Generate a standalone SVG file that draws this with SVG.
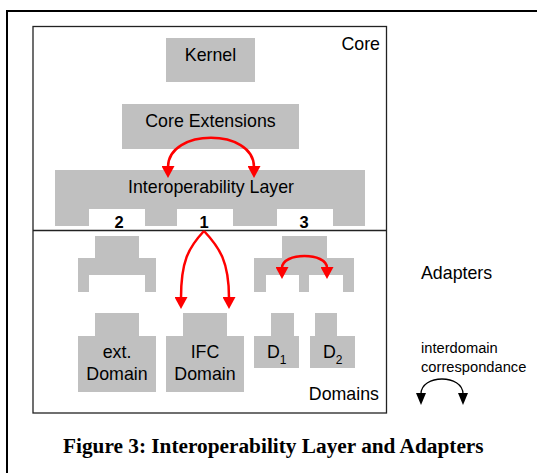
<svg xmlns="http://www.w3.org/2000/svg" width="537" height="473" viewBox="0 0 537 473">
<style>
.blk{fill:#c0c0c0;stroke:none}
.t{font-family:"Liberation Sans",Arial,sans-serif;font-size:17.8px;fill:#000}
.c{text-anchor:middle}
.num{font-family:"Liberation Sans",Arial,sans-serif;font-size:16.5px;font-weight:bold;text-anchor:middle;fill:#000}
.leg{font-family:"Liberation Sans",Arial,sans-serif;font-size:14.7px;fill:#000}
.red{fill:none;stroke:#ff0000;stroke-width:2.5}
.cap{font-family:"Liberation Serif","Times New Roman",serif;font-size:21.3px;font-weight:bold;fill:#000}
</style>
<defs>
<marker id="ra" markerUnits="userSpaceOnUse" markerWidth="12" markerHeight="13" viewBox="0 0 12 13" refX="1" refY="6.5" orient="auto-start-reverse"><path d="M0 0 L12 6.5 L0 13 Z" fill="#ff0000"/></marker>
<marker id="ba" markerUnits="userSpaceOnUse" markerWidth="12" markerHeight="10" viewBox="0 0 12 10" refX="1" refY="5" orient="auto-start-reverse"><path d="M0 0 L12 5 L0 10 Z" fill="#000"/></marker>
</defs>
<rect width="537" height="473" fill="#fff"/>
<g id="page-frame" fill="none" stroke="#000" stroke-width="2">
<path d="M7 473 V11 H537"/>
</g>
<g id="core-domains-box" fill="none" stroke="#222" stroke-width="1.3">
<rect x="33" y="26.5" width="353.5" height="386.5"/>
<line x1="33" y1="230.5" x2="386.5" y2="230.5"/>
</g>
<text class="t" x="380" y="50" text-anchor="end">Core</text>
<text class="t" x="379" y="400" text-anchor="end">Domains</text>
<text class="t" x="421" y="279">Adapters</text>
<g id="kernel">
<rect class="blk" x="166" y="38" width="89" height="44"/>
<text class="t c" x="210.5" y="61">Kernel</text>
</g>
<g id="core-extensions">
<rect class="blk" x="122" y="104" width="177" height="45"/>
<text class="t c" x="210.5" y="127">Core Extensions</text>
</g>
<g id="interoperability-layer">
<path class="blk" d="M55 170 H365 V226 H333 V209 H277 V226 H233 V209 H177 V226 H145 V209 H89 V226 H55 Z"/>
<text class="t c" x="211" y="193">Interoperability Layer</text>
<text class="num" x="119" y="228">2</text>
<text class="num" x="204" y="228">1</text>
<text class="num" x="304" y="228">3</text>
</g>
<g id="adapter-2">
<path class="blk" d="M95 236 H139 V258 H156 V292 H145 V275 H89 V292 H78 V258 H95 Z"/>
</g>
<g id="adapter-3">
<path class="blk" d="M282 236 H327 V258 H354 V292 H343 V275 H309 V292 H299 V275 H266 V292 H254 V258 H282 Z"/>
</g>
<g id="ext-domain">
<path class="blk" d="M95 313 H139 V336 H156 V392 H78 V336 H95 Z"/>
<text class="t c" x="117" y="358">ext.</text>
<text class="t c" x="117" y="380">Domain</text>
</g>
<g id="ifc-domain">
<path class="blk" d="M183 313 H227 V336 H244 V392 H166 V336 H183 Z"/>
<text class="t c" x="205" y="358">IFC</text>
<text class="t c" x="205" y="380">Domain</text>
</g>
<g id="d1">
<path class="blk" d="M271 313 H294 V336 H299 V368 H254 V336 H271 Z"/>
<text class="t" x="267" y="358">D<tspan font-size="12" dy="6">1</tspan></text>
</g>
<g id="d2">
<path class="blk" d="M315 313 H337 V336 H355 V368 H310 V336 H315 Z"/>
<text class="t" x="323" y="358">D<tspan font-size="12" dy="6">2</tspan></text>
</g>
<g id="connectors">
<path class="red" d="M168 167 C168 128 254 128 254 167" marker-start="url(#ra)" marker-end="url(#ra)"/>
<path class="red" d="M204 231 C188 248 181 262 181 298" marker-end="url(#ra)"/>
<path class="red" d="M204 231 C220 248 229 262 229 298" marker-end="url(#ra)"/>
<path class="red" d="M282 268 C282 252 327 252 327 268" marker-start="url(#ra)" marker-end="url(#ra)"/>
</g>
<g id="legend">
<text class="leg" x="421" y="353">interdomain</text>
<text class="leg" x="421" y="372">correspondance</text>
<path d="M421 394 C421 374 463 374 463 394" fill="none" stroke="#000" stroke-width="1.3" marker-start="url(#ba)" marker-end="url(#ba)"/>
</g>
<text class="cap" x="63" y="453">Figure 3: Interoperability Layer and Adapters</text>
</svg>
